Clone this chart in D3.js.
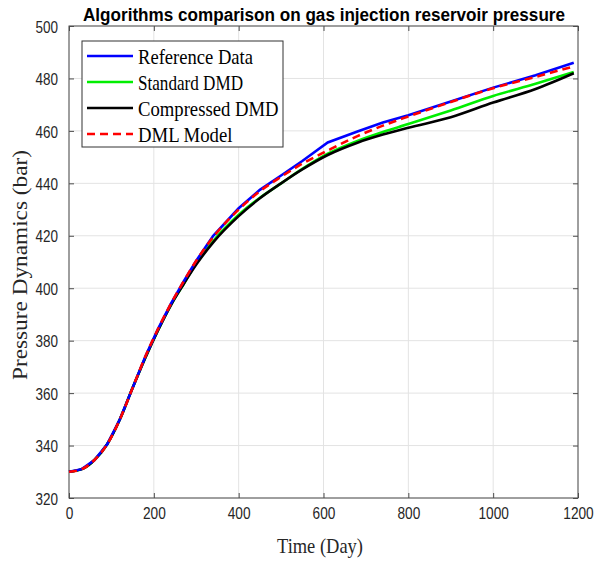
<script src="https://d3js.org/d3.v7.min.js"></script>
<style>
  body { margin: 0; background: #fff; }
</style>
<svg id="chart" width="611" height="562"></svg>
<script>
// days sampled along the curves
var days = [0, 30, 60, 90, 120, 150, 180, 210, 240, 270, 300, 340, 400, 450, 500, 550, 610, 680, 740, 800, 900, 1000, 1100, 1190];

var referenceData = [330, 331, 334.5, 340.5, 350, 362, 374, 384.5, 394, 402.5, 410.5, 420, 430.5, 437.5, 443, 448.5, 455.6, 459.8, 463.2, 466, 471.2, 476.5, 481.2, 486];
var standardDMD   = [330, 331, 334.5, 340.5, 350, 362, 373.5, 384, 393.5, 401.5, 409.5, 418, 428, 434.5, 440, 445.5, 451.3, 456.2, 459.6, 462.6, 467.8, 473.3, 478, 482.5];
var compressedDMD = [330, 331, 334.5, 340.5, 350, 362, 373.5, 384, 393.5, 401.5, 409, 417.5, 427.5, 434.3, 440, 445.3, 450.8, 455.5, 458.6, 461.2, 465.2, 470.8, 476, 482];
var dmlModel      = [330, 331, 334.5, 340.5, 350, 362, 374, 384.5, 394, 402.5, 410.5, 419.5, 430, 437, 442.5, 447.5, 452.5, 458, 462, 465.5, 471, 476.3, 480.6, 484.6];

var seriesNames = ["Reference Data", "Standard DMD", "Compressed DMD", "DML Model"];
var seriesColors = ["#0000ff", "#00ee00", "#000000", "#ff0000"];
var seriesValues = [referenceData, standardDMD, compressedDMD, dmlModel];

var xTicks = [0, 200, 400, 600, 800, 1000, 1200];
var yTicks = [320, 340, 360, 380, 400, 420, 440, 460, 480, 500];

var margin = {top: 26, right: 33, bottom: 64, left: 69},
    width = 611 - margin.left - margin.right,
    height = 562 - margin.top - margin.bottom;

var svg = d3.select("#chart")
  .append("g")
  .attr("transform", "translate(" + margin.left + "," + margin.top + ")");

var x = d3.scaleLinear().domain([0, 1200]).range([0, width]);
var y = d3.scaleLinear().domain([320, 500]).range([height, 0]);

// grid
svg.append("g")
  .selectAll("line.gx")
  .data(xTicks)
  .enter().append("line")
    .attr("x1", function(d) { return x(d); })
    .attr("x2", function(d) { return x(d); })
    .attr("y1", 0).attr("y2", height)
    .style("stroke", "#e3e3e3").style("stroke-width", 1);
svg.append("g")
  .selectAll("line.gy")
  .data(yTicks)
  .enter().append("line")
    .attr("y1", function(d) { return y(d); })
    .attr("y2", function(d) { return y(d); })
    .attr("x1", 0).attr("x2", width)
    .style("stroke", "#e3e3e3").style("stroke-width", 1);

// axes (ticks inward, MATLAB style)
var axisColor = "#4d4d4d";
function styleAxis(g) {
  g.select(".domain").remove();
  g.selectAll(".tick line").style("stroke", axisColor);
}

var xAxis = svg.append("g")
  .attr("transform", "translate(0," + height + ")")
  .call(d3.axisBottom(x).tickValues(xTicks).tickSize(-5).tickPadding(21).tickFormat(d3.format("d")));
styleAxis(xAxis);
xAxis.selectAll("text")
  .style("font-family", "Liberation Sans, Arial, sans-serif")
  .style("font-size", "17px")
  .style("fill", "#262626")
  .attr("dy", 0)
  .attr("textLength", function(d) { return String(d).length * 7.6; })
  .attr("lengthAdjust", "spacingAndGlyphs");

var yAxis = svg.append("g")
  .call(d3.axisLeft(y).tickValues(yTicks).tickSize(-5).tickPadding(11));
styleAxis(yAxis);
yAxis.selectAll("text")
  .style("font-family", "Liberation Sans, Arial, sans-serif")
  .style("font-size", "17px")
  .style("fill", "#262626")
  .attr("dy", "0.36em")
  .attr("textLength", function(d) { return String(d).length * 7.5; })
  .attr("lengthAdjust", "spacingAndGlyphs");

var xTop = svg.append("g")
  .call(d3.axisTop(x).tickValues(xTicks).tickSize(-5).tickFormat(""));
styleAxis(xTop);
var yRight = svg.append("g")
  .attr("transform", "translate(" + width + ",0)")
  .call(d3.axisRight(y).tickValues(yTicks).tickSize(-5).tickFormat(""));
styleAxis(yRight);

// box
svg.append("rect")
  .attr("width", width).attr("height", height)
  .style("fill", "none").style("stroke", axisColor).style("stroke-width", 1);

// lines
var line = d3.line()
  .x(function(d, i) { return x(days[i]); })
  .y(function(d) { return y(d); });

var drawOrder = [1, 2, 0, 3];
drawOrder.forEach(function(k) {
  svg.append("path")
    .datum(seriesValues[k])
    .attr("d", line.curve(k === 0 ? d3.curveLinear : d3.curveMonotoneX))
    .style("fill", "none")
    .style("stroke", seriesColors[k])
    .style("stroke-width", 2.6)
    .style("stroke-dasharray", k === 3 ? "8,5" : null);
});

// title
d3.select("#chart").append("text")
  .attr("x", 83).attr("y", 21)
  .attr("textLength", 482).attr("lengthAdjust", "spacingAndGlyphs")
  .style("font-family", "Liberation Sans, Arial, sans-serif")
  .style("font-weight", "bold")
  .style("font-size", "18px")
  .style("fill", "#000")
  .text("Algorithms comparison on gas injection reservoir pressure");

// axis labels
d3.select("#chart").append("text")
  .attr("x", 320).attr("y", 553)
  .attr("text-anchor", "middle")
  .attr("textLength", 86).attr("lengthAdjust", "spacingAndGlyphs")
  .style("font-family", "Liberation Serif, Times New Roman, serif")
  .style("font-size", "21px")
  .style("fill", "#262626")
  .text("Time (Day)");

d3.select("#chart").append("text")
  .attr("transform", "translate(27,265) rotate(-90)")
  .attr("text-anchor", "middle")
  .attr("textLength", 230).attr("lengthAdjust", "spacingAndGlyphs")
  .style("font-family", "Liberation Serif, Times New Roman, serif")
  .style("font-size", "20px")
  .style("fill", "#262626")
  .text("Pressure Dynamics (bar)");

// legend
var legend = d3.select("#chart").append("g");
legend.append("rect")
  .attr("x", 82).attr("y", 41).attr("width", 201).attr("height", 106)
  .style("fill", "#fff").style("stroke", "#333").style("stroke-width", 1);

var legendWidths = [115, 105, 140.5, 94.5];
seriesNames.forEach(function(name, i) {
  var cy = 56 + i * 26;
  legend.append("line")
    .attr("x1", 87).attr("x2", 133)
    .attr("y1", cy).attr("y2", cy)
    .style("stroke", seriesColors[i])
    .style("stroke-width", 2.6)
    .style("stroke-dasharray", i === 3 ? "8,5" : null);
  legend.append("text")
    .attr("x", 138).attr("y", cy + 8)
    .attr("textLength", legendWidths[i]).attr("lengthAdjust", "spacingAndGlyphs")
    .style("font-family", "Liberation Serif, Times New Roman, serif")
    .style("font-size", "21px")
    .style("fill", "#000")
    .text(name);
});
</script>
